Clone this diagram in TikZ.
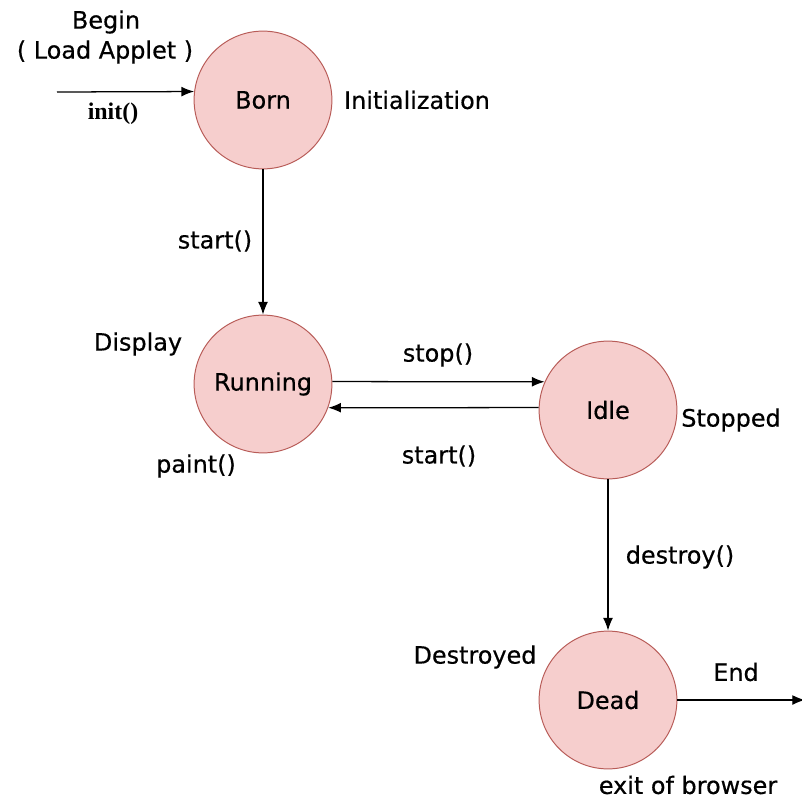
\documentclass[tikz,border=0pt]{standalone}
\usepackage{fontspec}
\setmainfont[FakeBold=0.5]{DejaVu Sans}
\newfontfamily\callfont{Liberation Serif}
\usetikzlibrary{arrows.meta}
\definecolor{phasefill}{RGB}{246,206,205}
\definecolor{phaseline}{RGB}{184,92,88}
\tikzstyle{phase}=[circle, draw=phaseline, fill=phasefill, line width=0.7pt,
    minimum size=98pt, inner sep=0pt, font=\fontsize{17}{20}\selectfont]
\tikzstyle{tag}=[inner sep=0pt, font=\fontsize{17}{20}\selectfont]
\newcommand{\phase}{\node[phase]}
\newcommand{\tag}{\node[tag]}

\begin{document}
\begin{tikzpicture}[x=0.025cm, y=-0.025cm
    ,every edge/.style={draw, line width=0.9pt, -{Latex[length=9pt,width=7pt]}}
]
\useasboundingbox (0,0) rectangle (802,800);
\phase (born) at (263,100) {Born};
\phase (running) at (263,384) {Running};
\phase (idle) at (608,410) {Idle};
\phase (dead) at (608,700) {Dead};
\coordinate (begin) at (57,92);
\coordinate (end) at (805,700);
% texts round the states
\tag (lbegin) at (106,22) {Begin};
\tag (lload) at (105,52) {( Load Applet )};
\tag[font=\callfont\bfseries\fontsize{17}{20}\selectfont] (linit) at (113,114) {init()};
\tag (linitial) at (417,100) {Initialization};
\tag (lstart) at (215,241) {start()};
\tag (ldisplay) at (138,344) {Display};
\tag (lpaint) at (196,466) {paint()};
\tag (lstop) at (438,355) {stop()};
\tag (lrestart) at (439,456) {start()};
\tag (lstopped) at (731,420) {Stopped};
\tag (ldestroy) at (680,557) {destroy()};
\tag (ldestroyed) at (475,657) {Destroyed};
\tag (lend) at (736,672) {End};
\tag (lexit) at (688,785) {exit of browser};
\path
(begin) edge (born.173)
(born) edge (running)
(running.2) edge (idle.156)
(idle.178) edge (running.-20)
(idle) edge (dead)
(dead) edge (end)
;
\end{tikzpicture}
\end{document}
